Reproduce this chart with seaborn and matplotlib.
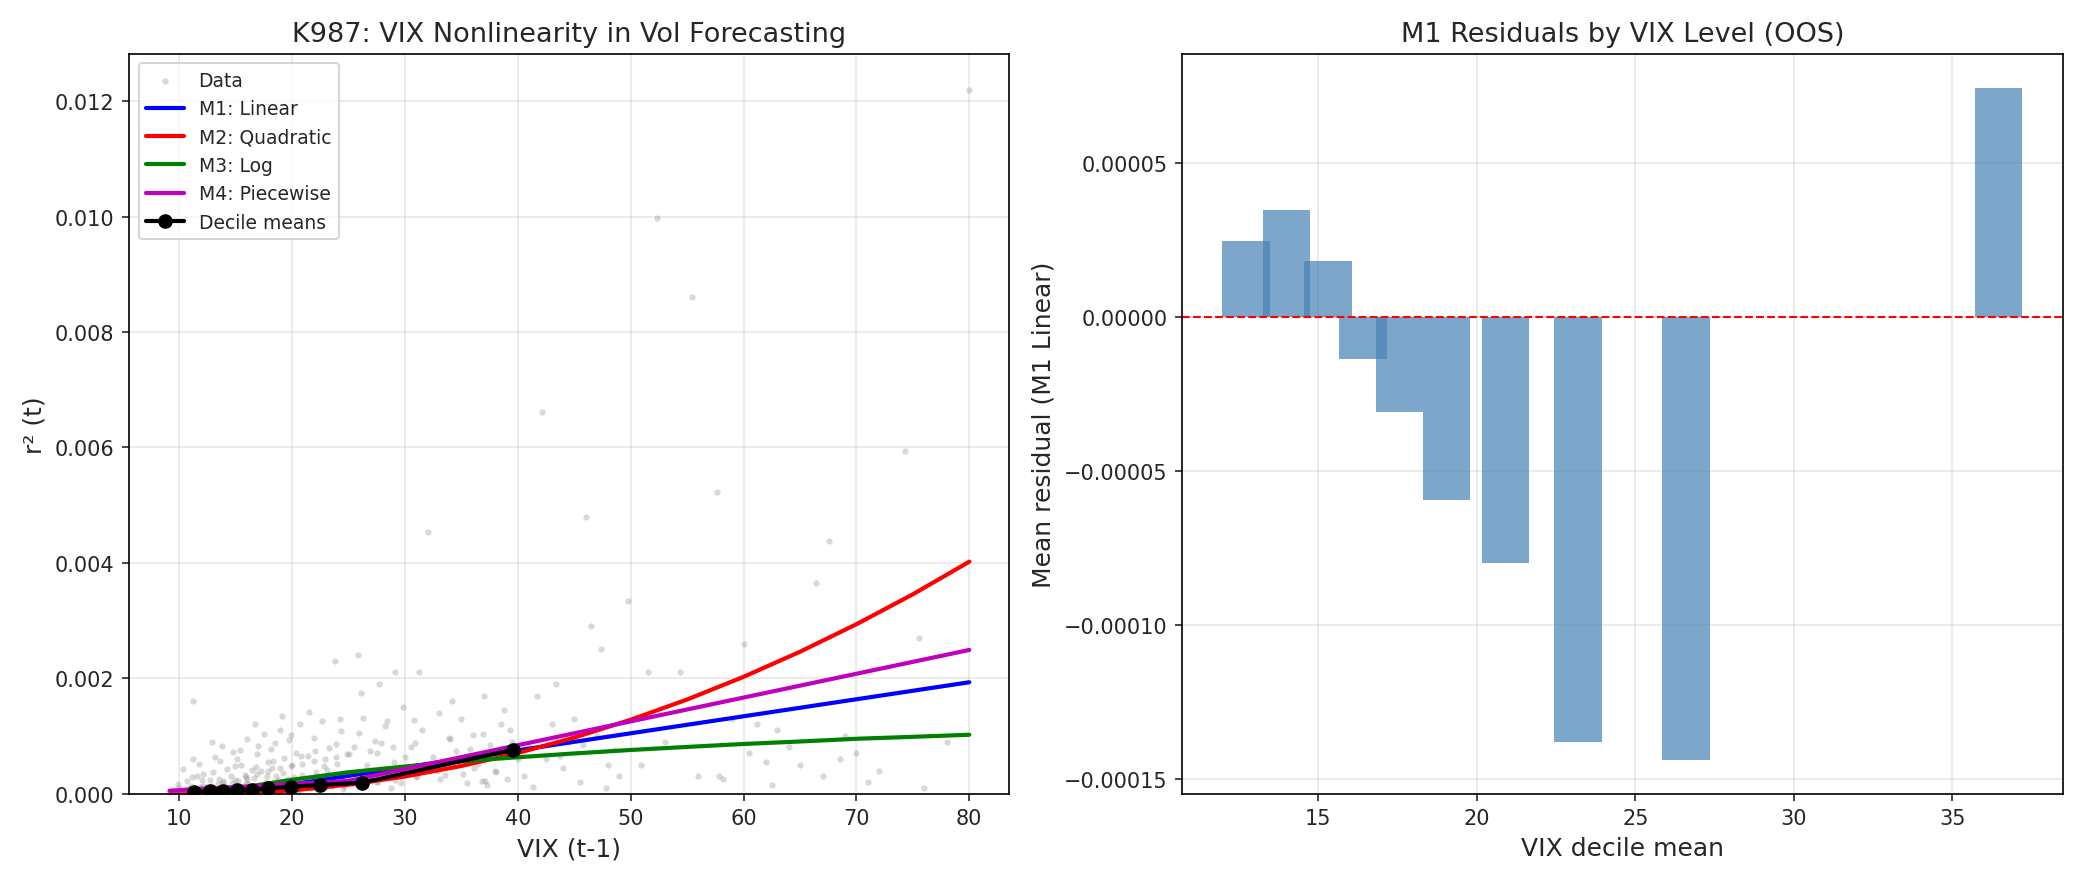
import matplotlib
matplotlib.use("Agg")
import matplotlib.pyplot as plt
import seaborn as sns
import pandas as pd

# --- scatter data: VIX(t-1) vs r^2(t), r^2 given in units of 1e-4 ---
vix_pts = [
    9.1, 9.4, 9.8, 10.0, 10.2, 10.5, 10.7, 10.9, 11.0, 11.2, 11.3, 11.5, 11.6, 11.8, 11.9, 12.0, 10.3, 10.8, 11.4, 11.7, 9.9, 10.6, 11.1, 11.9, 12.1, 10.4, 11.2,
    12.2, 12.4, 12.5, 12.7, 12.8, 13.0, 13.1, 13.3, 13.4, 13.6, 13.8, 13.9, 14.0, 14.2, 14.3, 14.5, 14.6, 14.8, 14.9, 12.3, 12.9, 13.5, 14.1, 14.7, 13.2, 12.6, 13.7, 14.4, 12.1, 13.0, 14.9, 13.8,
    15.0, 15.2, 15.3, 15.5, 15.7, 15.8, 16.0, 16.1, 16.3, 16.4, 16.6, 16.8, 16.9, 17.1, 17.2, 17.4, 17.5, 17.7, 17.9, 15.4, 16.2, 16.7, 17.3, 17.8, 15.9, 16.5, 17.0, 15.1, 16.0, 17.6, 16.8, 15.6,
    18.0, 18.2, 18.4, 18.5, 18.7, 18.9, 19.0, 19.2, 19.3, 19.5, 19.7, 19.8, 20.0, 20.2, 20.3, 20.5, 20.7, 20.9, 21.0, 18.3, 18.8, 19.4, 19.9, 20.4, 20.8, 18.6, 19.1, 20.6, 19.6, 18.1,
    21.2, 21.4, 21.7, 21.9, 22.1, 22.3, 22.6, 22.8, 23.0, 23.3, 23.5, 23.8, 24.0, 24.3, 24.5, 24.8, 25.0, 21.5, 22.4, 23.1, 23.9, 24.6, 22.0, 23.6, 24.2, 21.1,
    25.2, 25.5, 25.8, 26.0, 26.3, 26.6, 27.0, 27.3, 27.7, 28.0, 28.4, 28.8, 29.1, 29.5, 29.8, 30.0, 25.9, 26.8, 27.5, 28.2, 29.0, 29.6, 26.1, 27.9, 28.6,
    30.5, 31.0, 31.5, 32.0, 32.5, 33.0, 33.5, 34.0, 34.5, 35.0, 35.5, 36.0, 36.5, 37.0, 37.5, 38.0, 38.5, 39.0, 39.5, 40.0, 31.2, 32.8, 34.2, 35.8, 37.3, 38.8, 33.7, 36.8, 30.8, 39.3,
    40.5, 41.0, 41.7, 42.1, 42.5, 43.0, 43.4, 44.0, 44.5, 45.0, 45.5, 46.0, 46.5, 47.0, 47.4, 48.0, 48.5, 49.0, 49.8, 41.3, 43.7, 45.8, 47.8,
    50.9, 51.5, 52.3, 53.0, 54.4, 55.4, 56.0, 57.6, 57.8, 59.0, 60.0, 60.5, 61.2, 62.0, 63.0, 64.0, 65.0, 66.4, 67.0, 67.6, 68.5, 70.0, 71.0, 72.0, 74.3, 75.5, 76.0, 78.0, 80.0, 58.2, 62.5, 69.0,
    # dense low band
    9.5, 10.1, 10.6, 11.1, 11.6, 12.1, 12.6, 13.1, 13.6, 14.1, 14.6, 15.1, 15.6, 16.1, 16.6, 17.1, 17.6, 18.1, 18.6, 19.1, 19.6, 20.1, 20.6, 21.1, 21.6, 22.1, 22.6, 23.1, 23.6, 24.1,
    24.6, 25.1, 25.6, 26.1, 26.6, 27.1, 27.6, 28.1, 28.6, 29.1, 29.6, 30.1, 31.1, 32.1, 33.1, 34.1, 35.1, 36.1, 37.1, 38.1,
    9.7, 10.4, 11.4, 12.4, 13.4, 14.4, 15.4, 16.4, 17.4, 18.4, 19.4, 20.4, 21.4, 22.4, 23.4, 24.4, 25.4, 26.4, 27.4, 28.4,
    10.9, 11.9, 12.9, 13.9, 14.9, 15.9, 16.9, 17.9, 18.9, 19.9, 20.9, 21.9, 22.9, 23.9, 24.9, 26.9, 28.9, 30.9, 33.9, 36.9,
]
r2_pts_e4 = [
    0.2, 0.5, 0.1, 1.0, 0.3, 0.6, 2.1, 0.4, 1.4, 16.0, 0.8, 0.2, 3.0, 1.1, 0.5, 2.4, 4.2, 0.9, 0.3, 5.1, 1.6, 0.1, 2.8, 0.7, 1.3, 0.4, 6.0,
    0.3, 1.2, 0.6, 2.4, 0.1, 3.8, 0.9, 0.4, 1.7, 5.6, 0.2, 2.1, 0.7, 4.3, 1.0, 0.5, 3.1, 7.2, 1.4, 0.8, 9.0, 2.6, 0.3, 1.9, 6.3, 0.5, 1.1, 0.2, 3.4, 0.6, 4.8, 8.2,
    0.4, 2.2, 1.0, 5.0, 0.3, 3.3, 9.5, 1.6, 0.6, 4.1, 2.7, 0.2, 6.8, 1.3, 3.9, 0.8, 10.4, 2.0, 5.5, 7.6, 0.5, 12.1, 1.1, 3.0, 1.8, 0.9, 8.3, 6.0, 2.5, 0.4, 4.6, 1.2,
    1.5, 4.4, 0.6, 8.8, 2.3, 11.0, 0.9, 3.6, 6.2, 1.2, 9.3, 0.3, 4.9, 2.8, 7.1, 0.7, 12.0, 3.2, 1.9, 5.7, 0.4, 2.1, 10.1, 1.0, 6.6, 3.0, 13.5, 0.5, 2.6, 7.8,
    2.4, 6.5, 1.0, 9.7, 3.8, 0.6, 12.6, 4.7, 2.0, 7.9, 1.3, 23.0, 5.2, 10.8, 0.8, 3.5, 6.9, 14.2, 2.9, 4.1, 8.6, 1.7, 7.3, 3.1, 13.0, 0.9,
    3.6, 8.1, 24.0, 1.4, 13.1, 5.0, 2.2, 9.2, 19.0, 4.0, 12.5, 0.9, 21.0, 3.1, 15.0, 6.3, 10.5, 2.6, 7.0, 11.8, 5.4, 1.8, 17.5, 8.7, 3.3,
    8.0, 2.9, 11.0, 45.3, 6.4, 14.0, 3.2, 9.5, 7.3, 13.0, 1.9, 10.2, 5.1, 17.0, 8.5, 4.0, 12.0, 2.5, 9.0, 6.0, 21.0, 3.9, 16.0, 7.7, 1.5, 14.5, 5.7, 2.1, 12.8, 11.0,
    3.0, 8.0, 17.0, 66.1, 6.0, 12.0, 19.0, 4.5, 9.0, 13.0, 2.0, 48.0, 29.0, 10.0, 25.0, 5.0, 7.5, 3.0, 33.4, 1.2, 6.5, 8.5, 1.0,
    5.0, 21.0, 99.8, 9.0, 21.0, 86.0, 3.0, 52.3, 3.0, 13.0, 26.0, 7.0, 12.0, 5.5, 11.0, 8.0, 5.0, 36.5, 3.0, 43.8, 6.0, 7.0, 2.0, 4.0, 59.4, 27.0, 1.0, 9.0, 122.0, 2.5, 1.5, 10.0,
    # dense low band
    0.3, 0.2, 0.5, 0.1, 0.4, 0.3, 0.6, 0.2, 0.8, 0.4, 0.3, 1.0, 0.5, 0.7, 1.2, 0.4, 0.9, 1.5, 0.6, 1.1, 1.8, 0.8, 1.3, 2.2, 1.0, 1.6, 2.6, 1.2, 2.0, 3.0,
    1.4, 2.4, 3.4, 1.7, 2.8, 3.8, 2.0, 3.2, 4.2, 2.3, 3.6, 4.6, 3.0, 4.0, 2.6, 5.0, 3.4, 4.4, 2.2, 3.8,
    0.1, 0.4, 0.2, 0.6, 0.3, 0.9, 0.5, 1.3, 0.7, 1.7, 0.9, 2.1, 1.1, 2.5, 1.4, 2.9, 1.7, 3.3, 2.0, 3.7,
    0.6, 0.9, 1.4, 1.9, 2.4, 2.9, 3.4, 3.9, 4.4, 4.8, 5.2, 5.6, 6.0, 6.4, 6.8, 7.4, 8.0, 8.8, 9.6, 10.4,
]

# --- fitted model curves ---
m1_x = [9.14, 80.0]
m1_y = [-0.00016, 0.00193]
m2_x = [9.14, 10, 15, 20, 25, 30, 35, 40, 45, 50, 55, 60, 65, 70, 75, 80]
m2_y = [-0.000015, -0.000017, -0.000001, 0.000056, 0.000155, 0.000296, 0.000479, 0.000704,
        0.000971, 0.00128, 0.001631, 0.002024, 0.002459, 0.002936, 0.003455, 0.00402]
m3_x = [9.14, 10, 11, 13, 15, 17, 20, 25, 30, 35, 40, 45, 50, 55, 60, 65, 70, 75, 80]
m3_y = [-0.0002, -0.00015, -0.000097, -0.000003, 0.00008, 0.000149, 0.00024, 0.00037, 0.00047,
        0.00056, 0.00063, 0.000696, 0.000756, 0.000809, 0.00086, 0.000903, 0.00095, 0.000984, 0.00102]
m4_x = [9.14, 25.0, 80.0]
m4_y = [0.00005, 0.00022, 0.00249]

decile_vix = [11.3, 12.7, 13.9, 15.1, 16.4, 17.9, 19.9, 22.5, 26.2, 39.6]
decile_r2 = [0.00003, 0.00004, 0.00005, 0.00006, 0.00007, 0.00009, 0.00012, 0.00015, 0.00019, 0.00076]

# --- OOS residuals by VIX decile ---
resid_vix = [12.72, 14.0, 15.3, 16.4, 17.56, 19.05, 20.9, 23.2, 26.6, 36.47]
resid_mean = [2.45e-5, 3.47e-5, 1.81e-5, -1.36e-5, -3.08e-5, -5.94e-5, -7.97e-5, -1.378e-4, -1.437e-4, 7.44e-5]

scatter_df = pd.DataFrame({"vix": vix_pts, "r2": [v * 1e-4 for v in r2_pts_e4]})

sns.set_style("ticks")
plt.rcParams["font.family"] = ["DejaVu Sans"]
plt.rcParams["axes.edgecolor"] = "black"

fig, (ax1, ax2) = plt.subplots(1, 2, figsize=(13.9, 5.893), dpi=150)

sns.scatterplot(data=scatter_df, x="vix", y="r2", ax=ax1, color="gray", alpha=0.3,
                s=9, edgecolor=None, linewidth=0, label="Data")
sns.lineplot(x=m1_x, y=m1_y, ax=ax1, color="b", lw=2, label="M1: Linear", sort=False, estimator=None)
sns.lineplot(x=m2_x, y=m2_y, ax=ax1, color="r", lw=2, label="M2: Quadratic", sort=False, estimator=None)
sns.lineplot(x=m3_x, y=m3_y, ax=ax1, color="g", lw=2, label="M3: Log", sort=False, estimator=None)
sns.lineplot(x=m4_x, y=m4_y, ax=ax1, color="m", lw=2, label="M4: Piecewise", sort=False, estimator=None)
ax1.plot(decile_vix, decile_r2, "ko-", markersize=6, lw=2, label="Decile means")
ax1.set_ylim(bottom=0)
ax1.set_xlabel("VIX (t-1)", fontsize=12)
ax1.set_ylabel("r² (t)", fontsize=12)
ax1.set_title("K987: VIX Nonlinearity in Vol Forecasting", fontsize=13)
ax1.legend(loc="upper left", fontsize=9)
ax1.grid(True, color="#b0b0b0", alpha=0.3)

ax2.bar(resid_vix, resid_mean, width=1.5, color="steelblue", alpha=0.7, linewidth=0, edgecolor="none")
ax2.axhline(0, color="r", ls="--", lw=1)
ax2.set_xlabel("VIX decile mean", fontsize=12)
ax2.set_ylabel("Mean residual (M1 Linear)", fontsize=12)
ax2.set_title("M1 Residuals by VIX Level (OOS)", fontsize=13)
ax2.grid(True, color="#b0b0b0", alpha=0.3)

plt.tight_layout()
plt.savefig("out.png", dpi=150)
plt.close()
